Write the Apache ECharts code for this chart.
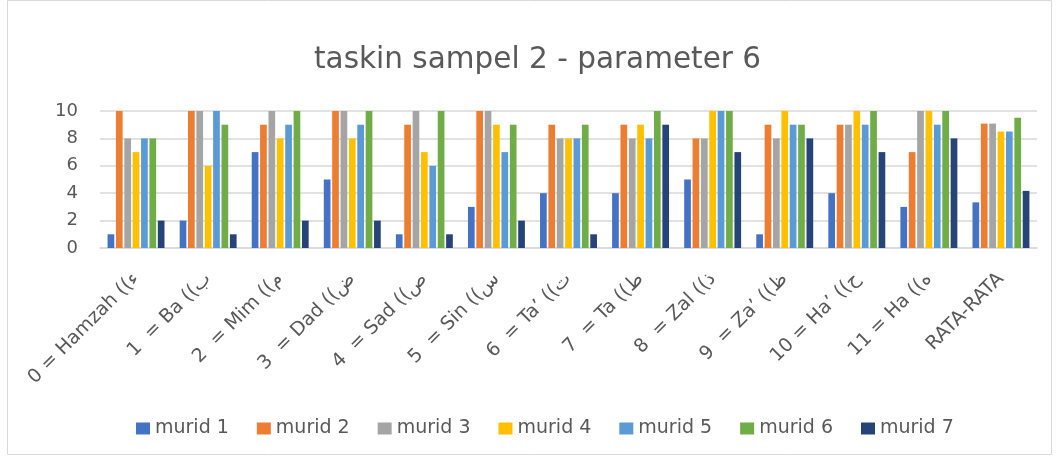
<!DOCTYPE html>
<html><head><meta charset="utf-8">
<script src="https://cdn.jsdelivr.net/npm/echarts@6/dist/echarts.min.js"></script>
<style>html,body{margin:0;padding:0;background:#fff}#c{width:1056px;height:459px}</style>
</head><body><div id="c"></div>
<script>
const categories = ["0 = Hamzah ((ء", "1  = Ba ((ب", "2  = Mim ((م", "3  = Dad ((ض", "4  = Sad ((ص", "5  = Sin ((س", "6  = Ta’ ((ت", "7  = Ta ((ط", "8  = Zal ((ذ", "9  = Za’ ((ظ", "10 = Ha’ ((ح", "11 = Ha ((ه", "RATA-RATA"];
const murid1 = [1, 2, 7, 5, 1, 3, 4, 4, 5, 1, 4, 3, 3.33];
const murid2 = [10, 10, 9, 10, 9, 10, 9, 9, 8, 9, 9, 7, 9.08];
const murid3 = [8, 10, 10, 10, 10, 10, 8, 8, 8, 8, 9, 10, 9.08];
const murid4 = [7, 6, 8, 8, 7, 9, 8, 9, 10, 10, 10, 10, 8.5];
const murid5 = [8, 10, 9, 9, 6, 7, 8, 8, 10, 9, 9, 9, 8.5];
const murid6 = [8, 9, 10, 10, 10, 9, 9, 10, 10, 9, 10, 10, 9.5];
const murid7 = [2, 1, 2, 2, 1, 2, 1, 9, 7, 8, 7, 8, 4.17];
const seriesNames = ["murid 1", "murid 2", "murid 3", "murid 4", "murid 5", "murid 6", "murid 7"];
const seriesData = [murid1, murid2, murid3, murid4, murid5, murid6, murid7];
const colors = ["#4472C4", "#ED7D31", "#A5A5A5", "#FFC000", "#5B9BD5", "#70AD47", "#264478"];

const FONT = "DejaVu Sans";
const chart = echarts.init(document.getElementById('c'), null, {renderer: 'canvas'});
chart.setOption({
  animation: false,
  color: colors,
  title: {
    text: "taskin sampel 2 - parameter 6",
    left: 309, top: 40,
    textStyle: {fontFamily: FONT, fontSize: 29.5, fontWeight: 'normal', color: '#595959'}
  },
  graphic: [{type: 'rect', shape: {x: 7.5, y: 0.5, width: 1044, height: 454}, style: {fill: 'none', stroke: '#D9D9D9', lineWidth: 1}, silent: true}],
  legend: {
    top: 414, left: 131, itemWidth: 14, itemHeight: 12, itemGap: 28,
    icon: 'rect',
    textStyle: {fontFamily: FONT, fontSize: 19, color: '#595959'},
    data: seriesNames
  },
  grid: {left: 100, right: 19, top: 111, height: 137, containLabel: false},
  xAxis: {
    type: 'category', data: categories,
    axisTick: {show: false},
    axisLine: {lineStyle: {color: '#D9D9D9', width: 1.5}},
    axisLabel: {rotate: 45, interval: 0, fontFamily: FONT, fontSize: 19, color: '#595959', margin: 28}
  },
  yAxis: {
    type: 'value', min: 0, max: 10, interval: 2,
    axisLine: {show: false}, axisTick: {show: false},
    splitLine: {lineStyle: {color: '#D9D9D9', width: 1.5}},
    axisLabel: {fontFamily: FONT, fontSize: 18, color: '#595959', margin: 22}
  },
  series: seriesNames.map((n, i) => ({
    name: n, type: 'bar', data: seriesData[i],
    barGap: '25%', barCategoryGap: '21%'
  }))
});
</script></body></html>
